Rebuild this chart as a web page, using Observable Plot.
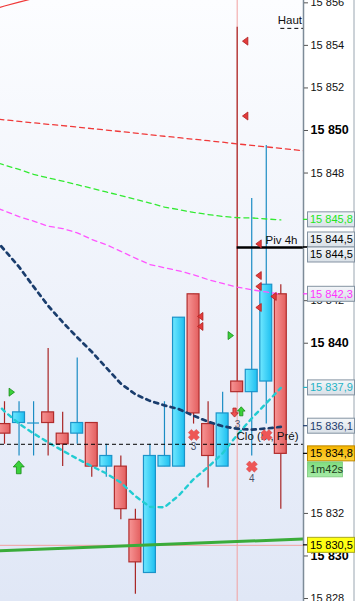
<!DOCTYPE html>
<html><head><meta charset="utf-8">
<script src="https://cdn.jsdelivr.net/npm/d3@7"></script>
<script src="https://cdn.jsdelivr.net/npm/@observablehq/plot@0.6"></script>
<style>html,body{margin:0;padding:0;background:#fff}svg{display:block}</style>
</head><body><div id="chart"></div>
<script>
// ---------- DATA ----------
const candleIdx = [0,1,2,3,4,5,6,7,8,9,10,11,12,13,14,15,16,17,18,19];
const opens  = [15836.2,15836.25,15836.25,15836.75,15835.75,15835.75,15836.25,15834.2,15834.2,15831.7,15829.2,15834.2,15834.2,15842.3,15836.2,15834.2,15838.2,15837.7,15838.2,15842.3];
const highs  = [15837.25,15837.25,15837.25,15839.75,15836.75,15839.3,15836.25,15835.25,15834.7,15832.2,15835.25,15837.25,15841.2,15842.3,15837.25,15837.7,15854.85,15846.8,15849.3,15842.75];
const lows   = [15835.25,15834.7,15834.7,15834.7,15834.2,15835.25,15833.7,15833.7,15831.7,15828.2,15829.2,15834.2,15834.2,15836.2,15833.2,15834.2,15837.7,15834.7,15836.2,15832.2];
const closes = [15835.75,15836.75,15836.25,15836.25,15835.25,15836.25,15834.2,15834.7,15832.2,15829.7,15834.7,15834.7,15841.2,15836.7,15834.7,15836.7,15837.7,15838.75,15842.75,15834.8];

const maIdx = [-1,0,1,2,3,4,5,6,7,8,9,10,11,12,13,14,15,16,17,18,19];
const navyMA    = [15845.16,15844.38,15843.59,15842.66,15841.76,15840.99,15840.28,15839.6,15838.85,15838.10,15837.6,15837.29,15837.08,15836.9,15836.59,15836.31,15836.1,15835.98,15835.94,15835.99,15836.07];
const cyanMA    = [15837.49,15836.8,15836.22,15835.76,15835.34,15834.95,15834.57,15834.22,15833.88,15833.45,15832.81,15832.31,15832.29,15832.85,15833.61,15834.18,15834.83,15835.69,15836.47,15837.18,15837.9];
const magentaMA = [15846.47,15846.22,15845.95,15845.74,15845.5,15845.39,15845.19,15844.88,15844.63,15844.32,15844.0,15843.7,15843.55,15843.4,15843.22,15842.99,15842.81,15842.64,15842.51,15842.41,15842.3];
const greenMA   = [15848.6,15848.37,15848.17,15847.94,15847.77,15847.62,15847.45,15847.28,15847.11,15846.94,15846.77,15846.59,15846.4,15846.28,15846.15,15846.05,15845.96,15845.9,15845.89,15845.84,15845.8];
const redIdx = [-1,0,1,2,3,4,5,6,7,8,9,10,11,12,13,14,15,16,17,18,19,20,21];
const redMA  = [15850.56,15850.5,15850.43,15850.36,15850.29,15850.23,15850.16,15850.09,15850.02,15849.95,15849.88,15849.8,15849.73,15849.66,15849.59,15849.52,15849.45,15849.37,15849.3,15849.23,15849.16,15849.09,15849.01];
const bandIdx = [-1,0,1,2];
const bandTop = [15855.66,15855.85,15856.03,15856.21];
const trendIdx = [-1,21];
const trendVal = [15830.23,15830.81];

const cloLevel = 15835.25, pivLevel = 15844.5, hautLevel = 15854.8;
const pivStart = 16, hautStart = 19;
const cursorIdx = 16, cursorPrice = 15830.5;

const sellTriIdx   = [16.57,16.57,17.49,17.49,17.49,17.49,18.52,13.48,13.48];
const sellTriPrice = [15854.2,15850.68,15844.67,15843.18,15842.67,15841.68,15842.2,15841.26,15840.79];
const buyTriIdx    = [0.48,15.54];
const buyTriPrice  = [15837.7,15840.36];
const upArrowIdx   = [0.98,16.28];
const upArrowPrice = [15834.17,15836.8];
const upArrowSize  = [6.5,4.5];
const downArrowIdx = [15.82];
const downArrowPrice = [15836.74];
const crossIdx   = [13.02,17.01,18.02];
const crossPrice = [15835.69,15834.2,15835.68];
const noteIdx   = [13.0,16.02,17.0];
const notePrice = [15835.14,15836.16,15833.65];
const noteText  = ["3","3","4"];

const tickValues = d3.range(15828, 15857, 2);
const labelValues = [15845.8,15844.5,15844.5,15842.3,15837.9,15836.1,15834.8,15830.5];
const labelColors = ["#22e622","#000","#000","#ff33ff","#1fb3c6","#1d3c6e","#000","#000"];
const labelKinds  = ["plain","plain","plain","plain","plain","plain","price","cursor"];
const countdown = "1m42s";

const xDomain = [-0.275, 20.56];
const yDomain = [15827.86, 15856.11];

// ---------- HELPERS ----------
const candles = candleIdx.map(i => ({i, o: opens[i], h: highs[i], l: lows[i], c: closes[i]}));
const isUp = d => d.c >= d.o;
const HW = 0.41;
const fmtTick = v => d3.format(",")(v).replace(",", " ");
const fmtLabel = v => d3.format(",.1f")(v).replace(",", " ").replace(".", ",");
const zip = (xs, ys) => xs.map((x, k) => ({x, y: ys[k]}));
const NS = "http://www.w3.org/2000/svg";
function el(tag, attrs, text) { const e = document.createElementNS(NS, tag); for (const k in attrs) e.setAttribute(k, attrs[k]); if (text != null) e.textContent = text; return e; }

// tick labels entirely covered by a price box are not drawn
const covered = v => labelValues.some(l => Math.abs(l - v) < 0.25) || (Math.abs(v - 15844) < 0.6) || (v > 15833.5 && v < 15834.5);
const visibleTicks = tickValues.filter(v => !covered(v));

const sym = f => ({draw(ctx, size) { f(ctx, Math.sqrt(size / Math.PI)); }});
const triLeft = sym((c, r) => { c.moveTo(-r*0.75, 0); c.lineTo(r*0.6, -r); c.lineTo(r*0.6, r); c.closePath(); });
const triRight = sym((c, r) => { c.moveTo(r*0.75, 0); c.lineTo(-r*0.6, -r); c.lineTo(-r*0.6, r); c.closePath(); });
const arrow = dir => sym((c, r) => {
  const pts = [[0,-r],[r*0.85,-r*0.05],[r*0.36,-r*0.05],[r*0.36,r],[-r*0.36,r],[-r*0.36,-r*0.05],[-r*0.85,-r*0.05]];
  pts.forEach(([x,y],k) => k ? c.lineTo(x, y*dir) : c.moveTo(x, y*dir)); c.closePath();
});
const crossSym = sym((c, r) => {
  const t = r*0.4, s = Math.SQRT1_2;
  const pts = [[t,-r],[t,-t],[r,-t],[r,t],[t,t],[t,r],[-t,r],[-t,t],[-r,t],[-r,-t],[-t,-t],[-t,-r]];
  pts.forEach(([x,y],k) => { const X=(x-y)*s, Y=(x+y)*s; k ? c.lineTo(X,Y) : c.moveTo(X,Y); }); c.closePath();
});

const backdrop = (index, scales, values, dims) => {
  const g = el("g", {});
  const right = dims.width - dims.marginRight;
  g.innerHTML = `<defs>
    <linearGradient id="bgGrad" x1="0" y1="0" x2="0" y2="1"><stop offset="0" stop-color="#fcfdff"/><stop offset="1" stop-color="#e0e7f6"/></linearGradient>
    <linearGradient id="redBody" x1="0" y1="0" x2="1" y2="0"><stop offset="0" stop-color="#f79595"/><stop offset="1" stop-color="#e35e5e"/></linearGradient>
    <linearGradient id="blueBody" x1="0" y1="0" x2="1" y2="0"><stop offset="0" stop-color="#70e8ff"/><stop offset="1" stop-color="#1dbff0"/></linearGradient>
    <linearGradient id="boxGray" x1="0" y1="0" x2="0" y2="1"><stop offset="0" stop-color="#f3f6f9"/><stop offset="1" stop-color="#d9e0e7"/></linearGradient>
    <linearGradient id="boxGold" x1="0" y1="0" x2="0" y2="1"><stop offset="0" stop-color="#f4b400"/><stop offset="1" stop-color="#ffd43a"/></linearGradient>
    <linearGradient id="boxGreen" x1="0" y1="0" x2="0" y2="1"><stop offset="0" stop-color="#7fdc7f"/><stop offset="1" stop-color="#a6eba6"/></linearGradient>
  </defs>
  <rect x="${dims.marginLeft}" y="0" width="${right - dims.marginLeft}" height="${dims.height}" fill="url(#bgGrad)"/>`;
  return g;
};

const axisFrame = (index, scales, values, dims) => {
  const g = el("g", {});
  const right = dims.width - dims.marginRight;
  g.appendChild(el("line", {x1: right + 0.5, x2: right + 0.5, y1: 0, y2: dims.height, stroke: "#7d8b98", "stroke-width": 1.5}));
  g.appendChild(el("line", {x1: dims.width - 1, x2: dims.width - 1, y1: 0, y2: dims.height, stroke: "#9aa6b1", "stroke-width": 1}));
  return g;
};

const priceLabels = (index, scales, values, dims) => {
  const g = el("g", {"font-size": 11, "font-family": "Liberation Sans, Arial, sans-serif", "text-anchor": "start"});
  const right = dims.width - dims.marginRight;
  const items = labelValues.map((v, k) => ({k, y0: scales.y(v), y: scales.y(v)})).sort((a, b) => a.y - b.y);
  for (let j = 1; j < items.length; j++) {
    const gap = items[j].y - items[j-1].y;
    if (gap < 15) { const s = (15 - gap) / 2; items[j-1].y -= s; items[j].y += s; }
  }
  for (const it of items) {
    const k = it.k, kind = labelKinds[k];
    g.appendChild(el("line", {x1: right, x2: right + 5, y1: it.y0, y2: it.y0, stroke: kind === "plain" ? labelColors[k] : "#000", "stroke-width": 1.2}));
    const fill = kind === "price" ? "url(#boxGold)" : kind === "cursor" ? "#ffff14" : "url(#boxGray)";
    const stroke = kind === "price" ? "#c08a00" : kind === "cursor" ? "#a8a820" : "#8493a2";
    g.appendChild(el("rect", {x: right + 4.5, y: it.y - 7.5, width: 47, height: 15, fill, stroke, "stroke-width": 1}));
    g.appendChild(el("text", {x: right + 7, y: it.y, dy: "0.36em", fill: labelColors[k]}, fmtLabel(labelValues[k])));
    if (kind === "price") {
      g.appendChild(el("rect", {x: right + 4.5, y: it.y + 8.5, width: 35, height: 15, fill: "url(#boxGreen)", stroke: "#7cc87c", "stroke-width": 0.8}));
      g.appendChild(el("text", {x: right + 7, y: it.y + 16, dy: "0.36em", fill: "#1a3a1a"}, countdown));
    }
  }
  return g;
};

const lineOpts = {x: "x", y: "y", clip: true};

const chart = Plot.plot({
  width: 355, height: 601,
  marginLeft: 0, marginRight: 52, marginTop: 0, marginBottom: 0,
  x: {domain: xDomain, axis: null},
  y: {domain: yDomain, axis: null},
  r: {type: "identity"},
  style: {fontFamily: "Liberation Sans, Arial, sans-serif", background: "#fff", overflow: "hidden"},
  marks: [
    backdrop,
    Plot.ruleX([cursorIdx], {stroke: "#f2a0a0", strokeWidth: 1}),
    Plot.ruleY([cursorPrice], {stroke: "#f2a0a0", strokeWidth: 1}),
    Plot.ruleX(candles, {x: "i", y1: "l", y2: "h", stroke: d => isUp(d) ? "#1b8cc4" : "#a82525", strokeWidth: 1.2}),
    Plot.rect(candles.filter(d => d.o !== d.c), {x1: d => d.i - HW, x2: d => d.i + HW, y1: "o", y2: "c",
      fill: d => isUp(d) ? "url(#blueBody)" : "url(#redBody)", stroke: d => isUp(d) ? "#1b93c9" : "#b02c2c", strokeWidth: 1.2}),
    Plot.ruleY(candles.filter(d => d.o === d.c), {y: "o", x1: d => d.i - HW, x2: d => d.i + HW, stroke: "#1b93c9", strokeWidth: 1.2}),
    Plot.line(zip(bandIdx, bandTop), {...lineOpts, stroke: "#f03838", strokeWidth: 1.2}),
    Plot.line(zip(redIdx, redMA), {...lineOpts, stroke: "#f03a3a", strokeWidth: 1.3, strokeDasharray: "5,4"}),
    Plot.line(zip(maIdx, greenMA), {...lineOpts, stroke: "#33ea33", strokeWidth: 1.3, strokeDasharray: "5,4"}),
    Plot.line(zip(maIdx, magentaMA), {...lineOpts, stroke: "#ff55ff", strokeWidth: 1.3, strokeDasharray: "5,4"}),
    Plot.line(zip(maIdx, navyMA), {...lineOpts, stroke: "#1a3d6d", strokeWidth: 2.7, strokeDasharray: "4,4.5"}),
    Plot.line(zip(maIdx, cyanMA), {...lineOpts, stroke: "#22ccd2", strokeWidth: 2.4, strokeDasharray: "4,4.5"}),
    Plot.line(zip(trendIdx, trendVal), {...lineOpts, stroke: "#3aac3a", strokeWidth: 3}),
    Plot.ruleY([cloLevel], {stroke: "#000", strokeWidth: 1, strokeDasharray: "4,3"}),
    Plot.ruleY([pivLevel], {x1: pivStart, x2: xDomain[1], stroke: "#000", strokeWidth: 2.4}),
    Plot.ruleY([hautLevel], {x1: hautStart, x2: xDomain[1], stroke: "#000", strokeWidth: 1, strokeDasharray: "4,3"}),
    Plot.text(["Clo (M, Pré)"], {y: cloLevel, text: d => d, frameAnchor: "right", textAnchor: "end", dx: -5, dy: -8, fontSize: 11.5, fill: "#111"}),
    Plot.text(["Piv 4h"], {y: pivLevel, text: d => d, frameAnchor: "right", textAnchor: "end", dx: -6, dy: -7, fontSize: 11.5, fill: "#111"}),
    Plot.text(["Haut"], {y: hautLevel, text: d => d, frameAnchor: "right", textAnchor: "end", dx: -1.5, dy: -8.5, fontSize: 11.5, fill: "#111"}),
    Plot.dot(zip(sellTriIdx, sellTriPrice), {x: "x", y: "y", symbol: triLeft, r: 4, fill: "#e23b3b", stroke: "#b02020", strokeWidth: 0.8}),
    Plot.dot(zip(buyTriIdx, buyTriPrice), {x: "x", y: "y", symbol: triRight, r: 4, fill: "#3ad23a", stroke: "#168a16", strokeWidth: 0.8}),
    Plot.dot(upArrowIdx.map((x, k) => ({x, y: upArrowPrice[k], s: upArrowSize[k]})), {x: "x", y: "y", r: "s", symbol: arrow(1), fill: "#3ad23a", stroke: "#168a16", strokeWidth: 0.8}),
    Plot.dot(zip(downArrowIdx, downArrowPrice), {x: "x", y: "y", r: 4.5, symbol: arrow(-1), fill: "#ee5050", stroke: "#b02020", strokeWidth: 0.8}),
    Plot.dot(zip(crossIdx, crossPrice), {x: "x", y: "y", r: 5.6, symbol: crossSym, fill: "#ee5656", stroke: "#d84848", strokeWidth: 0.5}),
    Plot.text(noteIdx.map((x, k) => ({x, y: notePrice[k], t: noteText[k]})), {x: "x", y: "y", text: "t", fontSize: 10, fill: "#4a5068"}),
    axisFrame,
    Plot.axisY(visibleTicks.filter(v => v % 10 !== 0), {anchor: "right", tickSize: 4, tickPadding: 3, tickFormat: fmtTick, fontSize: 11, stroke: "#555", color: "#111"}),
    Plot.axisY(visibleTicks.filter(v => v % 10 === 0), {anchor: "right", tickSize: 4, tickPadding: 3, tickFormat: fmtTick, fontSize: 12.5, fontWeight: "bold", stroke: "#555", color: "#000"}),
    priceLabels
  ]
});
document.getElementById("chart").appendChild(chart);
</script>
</body></html>
